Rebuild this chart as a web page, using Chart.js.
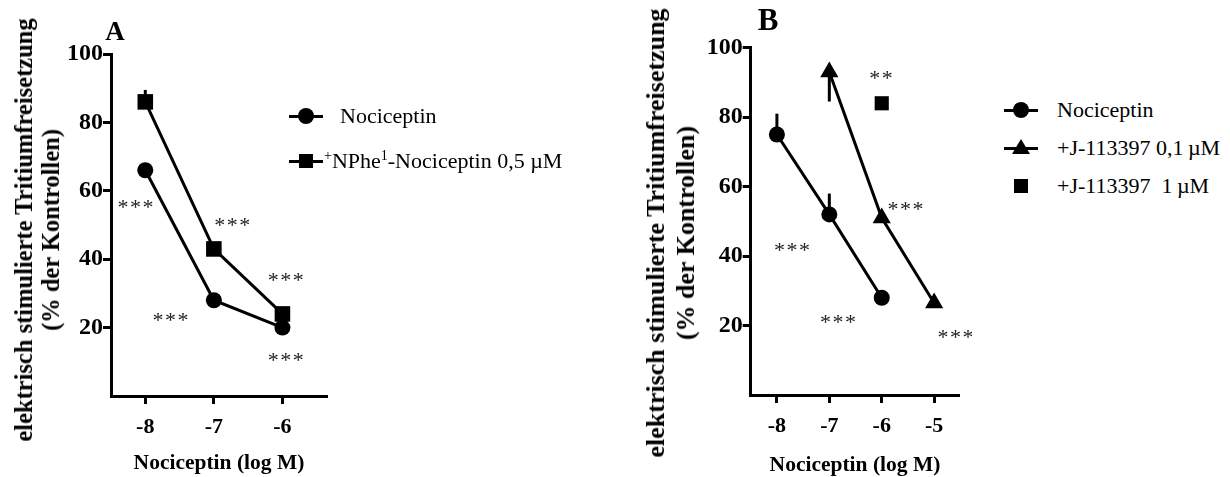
<!DOCTYPE html>
<html lang="de">
<head>
<meta charset="UTF-8">
<title>Nociceptin – Tritiumfreisetzung</title>
<script src="https://cdn.jsdelivr.net/npm/chart.js"></script>
    <style>
        * {
        margin: 0;
        padding: 0;
        box-sizing: border-box;
        }

        body {
        width: 1230px;
        height: 477px;
        position: relative;
        overflow: hidden;
        background: #fff;
        color: #000;
        font-family: 'Liberation Serif', 'Times New Roman', serif;
        }

        canvas {
        position: absolute;
        top: 0;
        }

        #chartA { left: 0; }
        #chartB { left: 632px; }

        .panel-label {
        position: absolute;
        font-weight: bold;
        line-height: 1;
        transform: translate(-50%, -50%);
        }

        .y-title {
        position: absolute;
        font-weight: bold;
        text-align: center;
        white-space: nowrap;
        transform: translate(-50%, -50%) rotate(-90deg);
        }

        .leg-mark {
        position: absolute;
        width: 34px;
        height: 30px;
        }

        .leg-mark .ln {
        position: absolute;
        left: 0;
        right: 0;
        top: 13.5px;
        height: 3px;
        background: #000;
        }

        .leg-mark .dot {
        position: absolute;
        left: 9px;
        top: 7px;
        width: 16px;
        height: 16px;
        border-radius: 50%;
        background: #000;
        }

        .leg-mark .sq {
        position: absolute;
        left: 10px;
        top: 8px;
        width: 14px;
        height: 14px;
        background: #000;
        }

        .leg-mark .tri {
        position: absolute;
        left: 8px;
        top: 6px;
        width: 0;
        height: 0;
        border-left: 9px solid transparent;
        border-right: 9px solid transparent;
        border-bottom: 15px solid #000;
        }

        .leg-text {
        position: absolute;
        font-size: 22px;
        line-height: 30px;
        height: 30px;
        white-space: nowrap;
        }

        .leg-text sup {
        font-size: 14px;
        vertical-align: 8px;
        line-height: 0;
        }
    </style>
</head>
<body>

    <canvas id="chartA" width="340" height="477"></canvas>
    <canvas id="chartB" width="340" height="477"></canvas>

    <div class="panel-label" style="left:115px; top:31px; font-size:27px;">A</div>
    <div class="panel-label" style="left:768px; top:19px; font-size:31px;">B</div>

    <div class="y-title" style="left:37px; top:230px; font-size:24.5px; line-height:27px;">elektrisch stimulierte Tritiumfreisetzung<br>(% der Kontrollen)</div>
    <div class="y-title" style="left:671px; top:233px; font-size:26px; line-height:30px;">elektrisch stimulierte Tritiumfreisetzung<br>(% der Kontrollen)</div>

    <!-- Legende A -->
    <div class="leg-mark" style="left:289px; top:101px;"><div class="ln"></div><div class="dot"></div></div>
    <div class="leg-text" style="left:340px; top:101px;">Nociceptin</div>
    <div class="leg-mark" style="left:289px; top:146px;"><div class="ln"></div><div class="sq"></div></div>
    <div class="leg-text" style="left:324px; top:146px;"><sup>+</sup>NPhe<sup>1</sup>-Nociceptin 0,5 &micro;M</div>

    <!-- Legende B -->
    <div class="leg-mark" style="left:1004px; top:95px;"><div class="ln"></div><div class="dot"></div></div>
    <div class="leg-text" style="left:1057px; top:95px;">Nociceptin</div>
    <div class="leg-mark" style="left:1004px; top:133px;"><div class="ln"></div><div class="tri"></div></div>
    <div class="leg-text" style="left:1057px; top:133px;">+J-113397 0,1&thinsp;&micro;M</div>
    <div class="leg-mark" style="left:1004px; top:171px;"><div class="sq"></div></div>
    <div class="leg-text" style="left:1057px; top:171px;">+J-113397 &nbsp;1&thinsp;&micro;M</div>

    <script>
        // Panel A
        const xTicksA = [-8, -7, -6];
        const doseA = [-8, -7, -6];
        const nociA = [66, 28, 20];
        const npheA = [86, 43, 24];
        const npheErrA = [3.5, 0, 0];

        // Panel B
        const xTicksB = [-8, -7, -6, -5];
        const doseNociB = [-8, -7, -6];
        const nociB = [75, 52, 28];
        const nociErrB = [6, 6, 0];
        const doseJ01 = [-7, -6, -5];
        const j01 = [93, 51, 26.5];
        const j01Err = [-8.5, 0, 0];
        const doseJ1 = [-6];
        const j1 = [84];

        const yTicks = [20, 40, 60, 80, 100];

        // Signifikanzsterne (Datenkoordinaten)
        const starXA = [-8.13, -6.72, -5.94, -7.62, -5.94];
        const starYA = [56, 50.7, 34.6, 22.9, 11.2];
        const starTA = ['***', '***', '***', '***', '***'];
        const starXB = [-6.0, -5.53, -7.7, -6.82, -4.58];
        const starYB = [92, 54.5, 42.5, 21.7, 17.4];
        const starTB = ['**', '***', '***', '***', '***'];

        const serif = "'Liberation Serif', 'Times New Roman', serif";

        function pts(xs, ys) {
        return xs.map((x, i) => ({ x: x, y: ys[i] }));
        }

        const errBars = {
        id: 'errbars',
        beforeDatasetsDraw(chart) {
            const { ctx, scales: { x, y } } = chart;
            ctx.save();
            ctx.strokeStyle = '#000';
            ctx.lineWidth = 3;
            chart.data.datasets.forEach(ds => {
            if (!ds.err) return;
            ds.data.forEach((p, i) => {
                const e = ds.err[i];
                if (!e) return;
                const px = x.getPixelForValue(p.x);
                ctx.beginPath();
                ctx.moveTo(px, y.getPixelForValue(p.y));
                ctx.lineTo(px, y.getPixelForValue(p.y + e));
                ctx.stroke();
            });
            });
            ctx.restore();
        }
        };

        const stars = {
        id: 'stars',
        afterDatasetsDraw(chart, args, opts) {
            const { ctx, scales: { x, y } } = chart;
            ctx.save();
            ctx.fillStyle = '#222';
            ctx.font = '22px ' + serif;
            ctx.textAlign = 'center';
            ctx.textBaseline = 'middle';
            ctx.letterSpacing = '1.5px';
            opts.xs.forEach((v, i) => {
            ctx.fillText(opts.texts[i], x.getPixelForValue(v), y.getPixelForValue(opts.ys[i]) + 4);
            });
            ctx.restore();
        }
        };

        function line(data, style, radius, err) {
        return {
            data: data,
            err: err,
            showLine: true,
            borderColor: '#000',
            borderWidth: 3,
            backgroundColor: '#000',
            pointStyle: style,
            pointRadius: radius,
            pointBorderWidth: 0,
            pointBackgroundColor: '#000',
            clip: false
        };
        }

        function draw(id, c) {
        return new Chart(document.getElementById(id), {
            type: 'scatter',
            data: { datasets: c.datasets },
            options: {
            responsive: false,
            animation: false,
            layout: { padding: { top: c.top, right: c.right, left: 0, bottom: 0 } },
            plugins: {
                legend: { display: false },
                tooltip: { enabled: false },
                stars: { xs: c.starX, ys: c.starY, texts: c.starT }
            },
            scales: {
                x: {
                type: 'linear',
                min: c.xMin,
                max: c.xMax,
                afterBuildTicks: s => { s.ticks = c.xTicks.map(v => ({ value: v })); },
                afterFit: s => { s.height = c.xHeight; },
                ticks: { color: '#000', font: { family: serif, size: 22, weight: 'bold' }, padding: 10, callback: v => String(v) },
                grid: { drawOnChartArea: false, tickLength: 8, tickWidth: 3, tickColor: '#000' },
                border: { color: '#000', width: 3 },
                title: {
                    display: true,
                    text: 'Nociceptin (log M)',
                    color: '#000',
                    font: { family: serif, size: 21.5, weight: 'bold', lineHeight: '24px' },
                    padding: { top: 0, bottom: c.xTitlePad }
                }
                },
                y: {
                min: 0,
                max: 100,
                afterBuildTicks: s => { s.ticks = yTicks.map(v => ({ value: v })); },
                afterFit: s => { s.width = c.yWidth; },
                ticks: { color: '#000', font: { family: serif, size: 24, weight: 'bold' }, padding: 0 },
                grid: { drawOnChartArea: false, tickLength: 8, tickWidth: 3, tickColor: '#000' },
                border: { color: '#000', width: 3 }
                }
            }
            },
            plugins: [errBars, stars]
        });
        }

        draw('chartA', {
        datasets: [
            line(pts(doseA, nociA), 'circle', 8),
            line(pts(doseA, npheA), 'rect', 11, npheErrA)
        ],
        xTicks: xTicksA, xMin: -8.5, xMax: -5.35,
        top: 54, right: 13, yWidth: 111, xHeight: 81,
        xTitlePad: 2,
        starX: starXA, starY: starYA, starT: starTA
        });

        const j1Set = line(pts(doseJ1, j1), 'rect', 10);
        j1Set.showLine = false;

        draw('chartB', {
        datasets: [
            line(pts(doseNociB, nociB), 'circle', 8, nociErrB),
            line(pts(doseJ01, j01), 'triangle', 10.5, j01Err),
            j1Set
        ],
        xTicks: xTicksB, xMin: -8.5, xMax: -4.52,
        top: 47.7, right: 12.7, yWidth: 118.7, xHeight: 82,
        xTitlePad: 0,
        starX: starXB, starY: starYB, starT: starTB
        });
    </script>
</body>
</html>
